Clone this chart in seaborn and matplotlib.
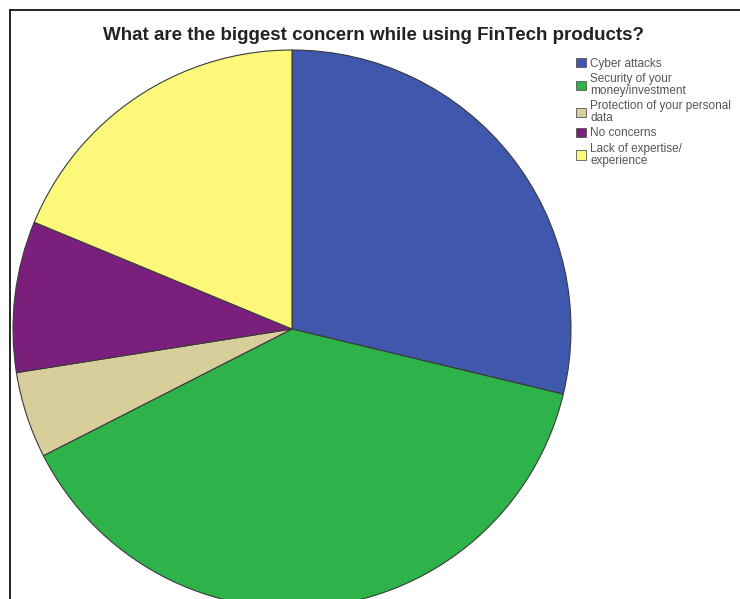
import matplotlib
matplotlib.use("Agg")
import matplotlib.pyplot as plt
from matplotlib.lines import Line2D
from matplotlib.patches import Patch
import seaborn as sns

categories = ["Cyber attacks", "Security of your\nmoney/investment",
              "Protection of your personal\ndata", "No concerns",
              "Lack of expertise/\nexperience"]
values = [23, 31, 4, 7, 15]
colors = ["#3F57AC", "#2DB34A", "#D7CE9C", "#7A1F7B", "#FBF87A"]

sns.set_theme(style="white")
plt.rcParams['font.family'] = ['Liberation Sans', 'DejaVu Sans']

W, H = 740, 599
fig = plt.figure(figsize=(W / 100, H / 100), dpi=100)

cx, cy, r = 292, 329, 279
ax = fig.add_axes([(cx - r) / W, (H - cy - r) / H, 2 * r / W, 2 * r / H])
wedges, _ = ax.pie(values, colors=colors, startangle=90, counterclock=False,
                   wedgeprops=dict(edgecolor="#3a3a3a", linewidth=0.8))
ax.set_xlim(-1, 1)
ax.set_ylim(-1, 1)
ax.set_aspect("equal")
ax.axis("off")

fig.text(374 / W, 1 - 35 / H, "What are the biggest concern while using FinTech products?",
         ha="center", va="center", fontsize=13.5, fontweight="bold", color="#222222")

handles = [Patch(facecolor=c, edgecolor="#555555", linewidth=0.6) for c in colors]
leg = fig.legend(handles, categories, loc="upper left",
                 bbox_to_anchor=(571 / W, 1 - 53 / H), frameon=False,
                 fontsize=8.5, handlelength=0.85, handleheight=0.85,
                 handletextpad=0.4, labelspacing=0.3, borderaxespad=0)
for t in leg.get_texts():
    t.set_color("#555555")
    t.set_linespacing(0.95)

# frame lines
fig.add_artist(Line2D([10 / W, 1], [1 - 10 / H, 1 - 10 / H], color="black", linewidth=1.2,
                      transform=fig.transFigure))
fig.add_artist(Line2D([10 / W, 10 / W], [0, 1 - 10 / H], color="black", linewidth=1.2,
                      transform=fig.transFigure))

fig.savefig("out.png", dpi=100, facecolor="white")
